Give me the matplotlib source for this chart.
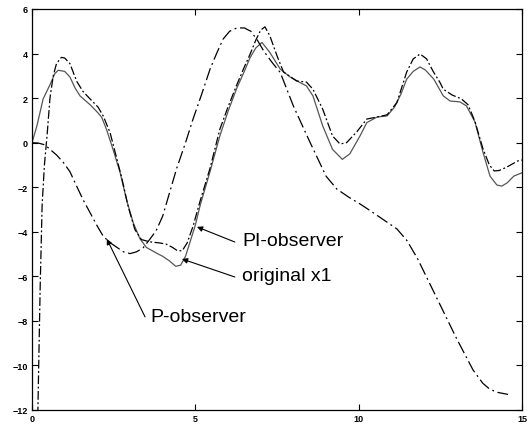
import matplotlib
matplotlib.use("Agg")
import matplotlib.pyplot as plt

plt.rcParams['font.family'] = ['Liberation Sans', 'DejaVu Sans']

# original state x1
t_x1 = [0, 0.15, 0.34, 0.55, 0.7, 0.8, 1.0, 1.16, 1.32, 1.47, 1.78, 1.98, 2.13, 2.28,
        2.48, 2.69, 2.9, 3.1, 3.3, 3.5, 3.8, 4.0, 4.2, 4.4, 4.55, 4.7, 4.85, 5.0, 5.15,
        5.45, 5.75, 6.0, 6.27, 6.5, 6.67, 6.85, 7.04, 7.28, 7.6, 7.9, 8.2, 8.4, 8.6, 8.9,
        9.2, 9.5, 9.73, 10.04, 10.25, 10.56, 10.87, 11.1, 11.3, 11.47, 11.67, 11.88, 12.05,
        12.3, 12.59, 12.8, 13.1, 13.3, 13.56, 13.8, 14.02, 14.23, 14.38, 14.55, 14.75, 15.0]
x1 = [0.0, 0.75, 1.96, 2.6, 3.1, 3.25, 3.2, 2.95, 2.45, 2.1, 1.7, 1.4, 1.15, 0.6,
      -0.3, -1.3, -2.6, -3.6, -4.3, -4.7, -4.95, -5.1, -5.3, -5.55, -5.5, -5.1, -4.4, -3.7, -2.8,
      -1.3, 0.3, 1.4, 2.45, 3.2, 3.8, 4.25, 4.5, 4.05, 3.3, 2.95, 2.7, 2.55, 2.1, 0.75,
      -0.3, -0.75, -0.5, 0.3, 0.9, 1.15, 1.2, 1.6, 2.2, 2.85, 3.2, 3.4, 3.25,
      2.85, 2.1, 1.87, 1.83, 1.65, 0.93, -0.4, -1.5, -1.9, -1.95, -1.8, -1.5, -1.35]

# PI-observer estimate
t_pi = [0.12, 0.18, 0.25, 0.31, 0.38, 0.46, 0.55, 0.65, 0.75, 0.9, 1.0, 1.16, 1.37, 1.56,
        1.78, 2.02, 2.18, 2.39, 2.54, 2.75, 2.95, 3.15, 3.35, 3.6, 3.9, 4.1, 4.3, 4.45, 4.6,
        4.75, 4.93, 5.14, 5.45, 5.75, 6.0, 6.27, 6.5, 6.67, 6.85, 7.0, 7.13, 7.28, 7.5, 7.7,
        8.1, 8.4, 8.6, 8.9, 9.2, 9.43, 9.63, 9.95, 10.25, 10.56, 10.87, 11.17, 11.47, 11.67,
        11.88, 12.08, 12.28, 12.49, 12.59, 12.86, 13.15, 13.35, 13.56, 13.8, 14.0, 14.15,
        14.3, 14.53, 14.87, 15.0]
x_pi = [-18.0, -12.0, -6.5, -2.8, -1.0, 0.3, 2.0, 3.0, 3.55, 3.83, 3.8, 3.55, 2.75, 2.3,
        1.96, 1.6, 1.2, 0.45, -0.4, -1.6, -2.9, -3.9, -4.35, -4.45, -4.5, -4.55, -4.7, -4.85, -4.85,
        -4.5, -3.75, -2.65, -1.15, 0.6, 1.6, 2.6, 3.4, 3.95, 4.6, 5.05, 5.2, 4.8, 3.9, 3.17,
        2.77, 2.72, 2.4, 1.5, 0.3, -0.06, 0.0, 0.5, 1.06, 1.15, 1.25, 1.8, 3.17, 3.76,
        3.98, 3.76, 3.2, 2.7, 2.4, 2.14, 1.96, 1.7, 0.95, -0.25, -1.0, -1.27,
        -1.25, -1.1, -0.82, -0.78]

# P-observer estimate
t_p = [0, 0.2, 0.4, 0.55, 0.75, 0.95, 1.16, 1.35, 1.56, 1.78, 2.0, 2.18, 2.4, 2.6, 2.8,
       3.0, 3.2, 3.4, 3.6, 3.8, 4.0, 4.2, 4.43, 4.7, 4.93, 5.2, 5.45, 5.65, 5.85, 6.05,
       6.27, 6.5, 6.7, 6.9, 7.1, 7.35, 7.6, 8.0, 8.5, 9.0, 9.33, 9.7, 10.04, 10.35, 10.8,
       11.17, 11.48, 11.8, 12.1, 12.5, 13.0, 13.5, 13.8, 14.0, 14.22, 14.57]
x_p = [0.0, -0.02, -0.1, -0.3, -0.55, -0.87, -1.3, -1.9, -2.55, -3.15, -3.75, -4.2, -4.5, -4.7, -4.9,
       -4.98, -4.9, -4.72, -4.35, -3.95, -3.3, -2.3, -1.15, 0.0, 1.06, 2.2, 3.3, 4.0, 4.65, 5.0,
       5.15, 5.15, 5.0, 4.6, 4.1, 3.6, 3.15, 1.65, 0.05, -1.5, -2.08, -2.45, -2.75, -3.05, -3.5,
       -3.87, -4.4, -5.2, -6.1, -7.3, -8.8, -10.2, -10.8, -11.05, -11.2, -11.3]

x_ticks = [0, 5, 10, 15]
y_ticks = [-12, -10, -8, -6, -4, -2, 0, 2, 4, 6]

fig = plt.figure(figsize=(5.3, 4.31), dpi=100)
ax = fig.add_axes([32 / 530, 1 - 411 / 431, 490 / 530, 401 / 431])

ax.plot(t_x1, x1, color='#555555', lw=0.9, ls='-')
ax.plot(t_pi, x_pi, color='black', lw=0.9, ls=(0, (7, 2, 1.5, 2)))
ax.plot(t_p, x_p, color='black', lw=0.9, ls=(0, (10, 3, 1.5, 3)))

ax.set_xlim(0, 15)
ax.set_ylim(-12, 6)
ax.set_xticks(x_ticks)
ax.set_yticks(y_ticks)
ax.tick_params(direction='in', length=4, width=0.8, top=True, right=True,
               labelsize=6.5, pad=3)
for lab in ax.get_xticklabels() + ax.get_yticklabels():
    lab.set_fontweight('bold')
for sp in ax.spines.values():
    sp.set_linewidth(0.9)

arrow = dict(arrowstyle='-|>', color='black', lw=0.8, mutation_scale=8,
             shrinkA=0, shrinkB=0)
labels = [
    ('PI-observer', (5.05, -3.78), (6.21, -4.46), (6.43, -4.41)),
    ('original x1', (4.59, -5.22), (6.21, -6.03), (6.43, -5.98)),
    ('P-observer', (2.29, -4.32), (3.46, -7.82), (3.61, -7.82)),
]
for text, tip, tail, pos in labels:
    ax.annotate('', xy=tip, xytext=tail, arrowprops=arrow)
    ax.text(pos[0], pos[1], text, fontsize=14, ha='left', va='center')

fig.savefig('out.png', dpi=100)
